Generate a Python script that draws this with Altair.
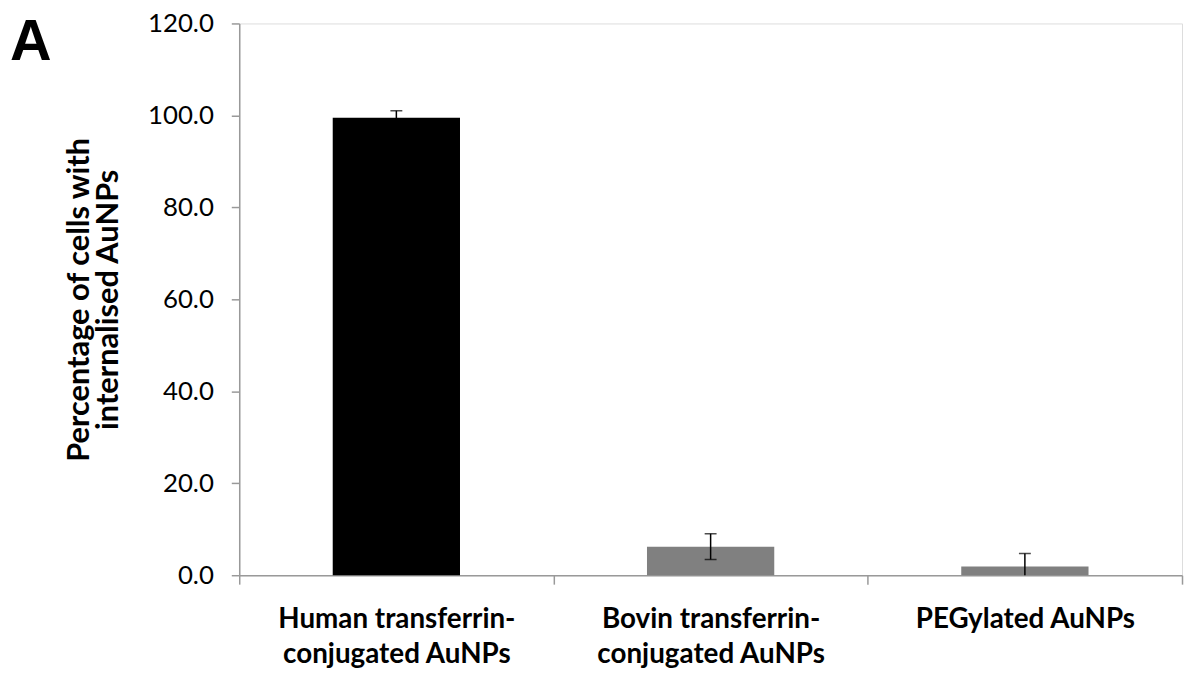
import altair as alt
import pandas as pd

categories = ["Human transferrin-\nconjugated AuNPs", "Bovin transferrin-\nconjugated AuNPs", "PEGylated AuNPs"]
values = [99.5, 6.2, 1.9]
errors = [1.5, 2.8, 2.8]
colors = ["#000000", "#808080", "#808080"]
y_ticks = [0, 20, 40, 60, 80, 100, 120]

df = pd.DataFrame({
    "cat": categories,
    "val": values,
    "lo": [v - e for v, e in zip(values, errors)],
    "hi": [v + e for v, e in zip(values, errors)],
    "color": colors,
})

FONT = "Lato"

x = alt.X("cat:N", sort=categories, title=None,
          scale=alt.Scale(paddingInner=0, paddingOuter=0),
          axis=alt.Axis(labelAngle=0, labelFont=FONT, labelFontSize=28, labelFontWeight="bold",
                        labelColor="#000", labelExpr="split(datum.label, '\\n')", labelLineHeight=35,
                        labelPadding=22, labelBaseline="top", labelLimit=0,
                        domainColor="#999", tickColor="#999", tickSize=9, tickBand="extent",
                        domainWidth=1.5, tickWidth=1.5))
yscale = alt.Scale(domain=[0, 120])

bars = alt.Chart(df).mark_bar(width=alt.RelativeBandSize(0.405)).encode(
    x=x,
    y=alt.Y("val:Q", scale=yscale,
            title=["Percentage of cells with", "internalised AuNPs"],
            axis=alt.Axis(values=y_ticks, format=".1f", grid=False, labelFont=FONT, labelFontSize=26,
                          labelColor="#000", labelPadding=18, tickSize=8, tickColor="#999",
                          domainColor="#999", domainWidth=1.5, tickWidth=1.5,
                          titleFont=FONT, titleFontSize=31, titleFontWeight="bold", titleColor="#000",
                          titleLineHeight=29, titlePadding=23)),
    color=alt.Color("color:N", scale=None),
)

rules = alt.Chart(df).mark_rule(color="#000", strokeWidth=1.5, clip=True).encode(
    x=x, y=alt.Y("lo:Q", scale=yscale), y2="hi:Q")

caps_hi = alt.Chart(df).mark_tick(color="#000", thickness=1.5, size=12, clip=True).encode(
    x=x, y=alt.Y("hi:Q", scale=yscale))
caps_lo = alt.Chart(df).mark_tick(color="#000", thickness=1.5, size=12, clip=True).encode(
    x=x, y=alt.Y("lo:Q", scale=yscale))

panel = alt.Chart(pd.DataFrame({"t": ["A"]})).mark_text(
    font="Liberation Sans", fontSize=58, fontWeight="bold", align="left", baseline="alphabetic", color="#000"
).encode(text="t:N", x=alt.value(-231), y=alt.value(37))

chart = alt.layer(bars, rules, caps_hi, caps_lo, panel).properties(
    width=950, height=556,
    padding={"left": 233, "top": 13, "right": 2, "bottom": 100},
    autosize=alt.AutoSizeParams(type="none"),
).configure_view(stroke=None).configure(background="white")

chart.save("out.html", embed_options={"renderer": "svg", "actions": False})
